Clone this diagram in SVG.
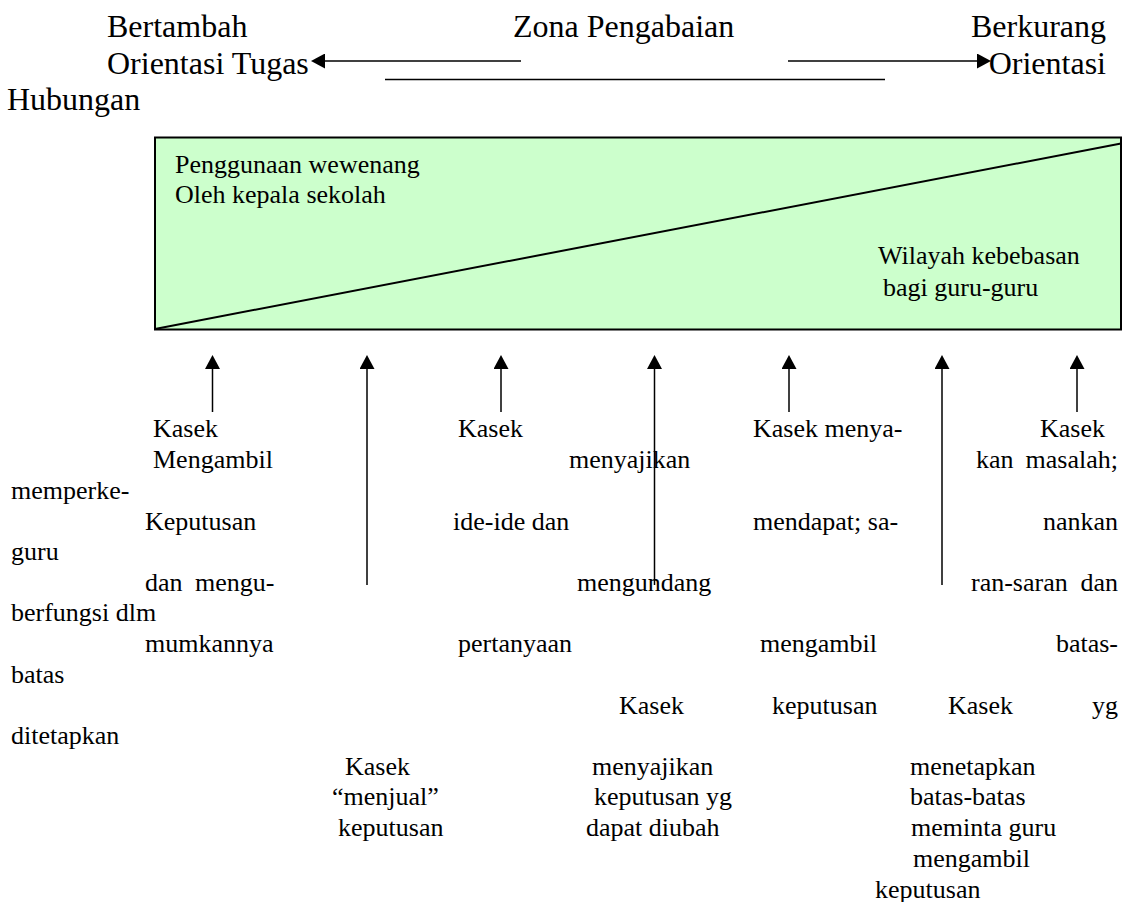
<svg xmlns="http://www.w3.org/2000/svg" width="1122" height="902" viewBox="0 0 1122 902">
<style>
.h{font-family:"Liberation Serif","Times New Roman",serif;font-size:32px;fill:#000}
.t{font-family:"Liberation Serif","Times New Roman",serif;font-size:26px;fill:#000}
.ln{stroke:#000;stroke-width:1.5;fill:none}
.ar{stroke:#000;stroke-width:1.5;fill:none;marker-end:url(#ah)}
</style>
<defs>
<marker id="ah" viewBox="0 0 14 15" markerWidth="14" markerHeight="15" refX="0" refY="7.5" orient="auto" markerUnits="userSpaceOnUse">
<path d="M0,0 L14,7.5 L0,15 z" fill="#000"/>
</marker>
</defs>
<rect width="1122" height="902" fill="#fff"/>

<g id="header">
<text class="h" x="107" y="37">Bertambah</text>
<text class="h" x="513" y="37">Zona Pengabaian</text>
<text class="h" x="1106" y="37" text-anchor="end">Berkurang</text>
<text class="h" x="107" y="74">Orientasi Tugas</text>
<text class="h" x="1106" y="74" text-anchor="end">Orientasi</text>
<text class="h" x="7" y="110">Hubungan</text>
</g>

<g id="continuum-box">
<rect x="155" y="137.5" width="966" height="192" fill="#ccffcc" stroke="#000" stroke-width="2"/>
<line x1="155" y1="329" x2="1121" y2="143.5" stroke="#000" stroke-width="2"/>
<text class="t" x="175" y="173">Penggunaan wewenang</text>
<text class="t" x="175" y="203">Oleh kepala sekolah</text>
<text class="t" x="878" y="264">Wilayah kebebasan</text>
<text class="t" x="883" y="296">bagi guru-guru</text>
</g>

<g id="connectors">
<line class="ar" x1="521" y1="61" x2="325" y2="61"/>
<line class="ar" x1="788" y1="61" x2="977" y2="61"/>
<line class="ln" x1="385" y1="79.5" x2="885" y2="79.5"/>
<line class="ar" x1="212.5" y1="412" x2="212.5" y2="369"/>
<line class="ar" x1="367" y1="585" x2="367" y2="369"/>
<line class="ar" x1="501" y1="412" x2="501" y2="369"/>
<line class="ar" x1="654.5" y1="585" x2="654.5" y2="369"/>
<line class="ar" x1="789" y1="412" x2="789" y2="369"/>
<line class="ar" x1="942" y1="585" x2="942" y2="369"/>
<line class="ar" x1="1077" y1="412" x2="1077" y2="369"/>
</g>

<g id="col1">
<text class="t" x="153" y="437">Kasek</text>
<text class="t" x="153" y="468">Mengambil</text>
<text class="t" x="145" y="530">Keputusan</text>
<text class="t" x="145" y="591">dan</text>
<text class="t" x="195" y="591">mengu-</text>
<text class="t" x="145" y="652">mumkannya</text>
</g>

<g id="col2">
<text class="t" x="345" y="775">Kasek</text>
<text class="t" x="332" y="805">“menjual”</text>
<text class="t" x="338" y="836">keputusan</text>
</g>

<g id="col3">
<text class="t" x="458" y="437">Kasek</text>
<text class="t" x="569" y="468">menyajikan</text>
<text class="t" x="453" y="530">ide-ide dan</text>
<text class="t" x="577" y="591">mengundang</text>
<text class="t" x="458" y="652">pertanyaan</text>
</g>

<g id="col4">
<text class="t" x="619" y="714">Kasek</text>
<text class="t" x="592" y="775">menyajikan</text>
<text class="t" x="594" y="805">keputusan yg</text>
<text class="t" x="586" y="836">dapat diubah</text>
</g>

<g id="col5">
<text class="t" x="753" y="437">Kasek menya-</text>
<text class="t" x="976" y="468">kan</text>
<text class="t" x="1118" y="468" text-anchor="end">masalah;</text>
<text class="t" x="753" y="530">mendapat; sa-</text>
<text class="t" x="971" y="591">ran-saran</text>
<text class="t" x="1118" y="591" text-anchor="end">dan</text>
<text class="t" x="760" y="652">mengambil</text>
<text class="t" x="772" y="714">keputusan</text>
</g>

<g id="col6">
<text class="t" x="948" y="714">Kasek</text>
<text class="t" x="910" y="775">menetapkan</text>
<text class="t" x="910" y="805">batas-batas</text>
<text class="t" x="911" y="836">meminta guru</text>
<text class="t" x="913" y="867">mengambil</text>
<text class="t" x="875" y="898">keputusan</text>
</g>

<g id="col7">
<text class="t" x="1040" y="437">Kasek</text>
<text class="t" x="11" y="499">memperke-</text>
<text class="t" x="1118" y="530" text-anchor="end">nankan</text>
<text class="t" x="11" y="560">guru</text>
<text class="t" x="11" y="621">berfungsi dlm</text>
<text class="t" x="1118" y="652" text-anchor="end">batas-</text>
<text class="t" x="11" y="683">batas</text>
<text class="t" x="1118" y="714" text-anchor="end">yg</text>
<text class="t" x="11" y="744">ditetapkan</text>
</g>
</svg>
